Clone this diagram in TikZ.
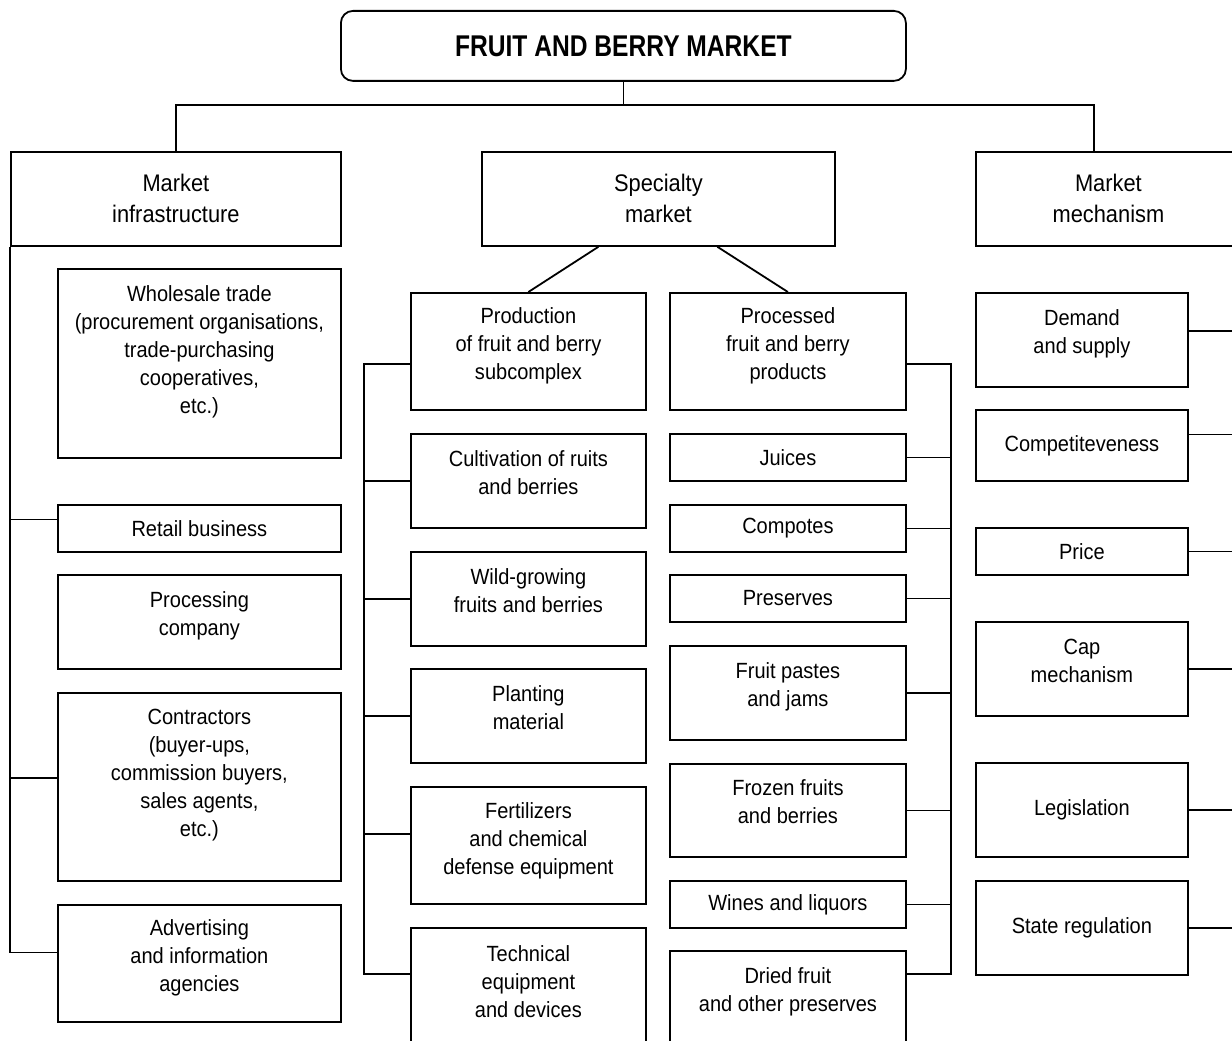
\documentclass[tikz,border=0pt]{standalone}
\usepackage{fontspec}
\setmainfont{Liberation Sans}[FakeStretch=0.91]
\newfontfamily\titlefont{Liberation Sans}[FakeStretch=0.82]

\begin{document}
\begin{tikzpicture}[x=1pt,y=-1pt,line width=1.8pt,
        box/.style={draw,rectangle,anchor=north west,inner sep=0pt,align=center,font=\fontsize{22}{28}\selectfont},
        headbox/.style={box,minimum height=94pt,font=\fontsize{24}{31}\selectfont},
        infrabox/.style={box,minimum width=283pt},
        prodbox/.style={box,minimum width=235pt},
        goodsbox/.style={box,minimum width=236pt},
        mechbox/.style={box,minimum width=212pt},
        lift/.style={text depth=#1}]
    \clip (0,0) rectangle (1232,1041);

    \node[draw,rounded corners=12pt,anchor=north west,minimum width=565pt,minimum height=70pt,
        font=\titlefont\bfseries\fontsize{30}{36}\selectfont] (title) at (340,10) {FRUIT AND BERRY MARKET};

    \node[headbox,minimum width=330pt] (infra) at (10,151) {Market\\infrastructure};
    \node[headbox,minimum width=353pt] (spec) at (481,151) {Specialty\\market};
    \node[headbox,minimum width=265pt] (mech) at (975,151) {Market\\mechanism};

    \node[infrabox,minimum height=189pt,lift=27pt] (whole) at (57,268) {Wholesale trade\\(procurement organisations,\\trade-purchasing\\cooperatives,\\etc.)};
    \node[infrabox,minimum height=47pt] (retail) at (57,504) {Retail business};
    \node[infrabox,minimum height=94pt,lift=17pt] (proc) at (57,574) {Processing\\company};
    \node[infrabox,minimum height=188pt,lift=29pt] (contr) at (57,692) {Contractors\\(buyer-ups,\\commission buyers,\\sales agents,\\etc.)};
    \node[infrabox,minimum height=117pt,lift=15pt] (adv) at (57,904) {Advertising\\and information\\agencies};

    \node[prodbox,minimum height=117pt,lift=15pt] (prod) at (410,292) {Production\\of fruit and berry\\subcomplex};
    \node[prodbox,minimum height=94pt,lift=16pt] (cult) at (410,433) {Cultivation of ruits\\and berries};
    \node[prodbox,minimum height=94pt,lift=16pt] (wild) at (410,551) {Wild-growing\\fruits and berries};
    \node[prodbox,minimum height=94pt,lift=16pt] (plant) at (410,668) {Planting\\material};
    \node[prodbox,minimum height=117pt,lift=13pt] (fert) at (410,786) {Fertilizers\\and chemical\\defense equipment};
    \node[prodbox,minimum height=118pt,lift=10pt] (tech) at (410,927) {Technical\\equipment\\and devices};

    \node[goodsbox,minimum height=117pt,lift=15pt] (procd) at (669,292) {Processed\\fruit and berry\\products};
    \node[goodsbox,minimum height=47pt] (juice) at (669,433) {Juices};
    \node[goodsbox,minimum height=47pt] (comp) at (669,504) {Compotes};
    \node[goodsbox,minimum height=47pt] (pres) at (669,574) {Preserves};
    \node[goodsbox,minimum height=94pt,lift=17pt] (paste) at (669,645) {Fruit pastes\\and jams};
    \node[goodsbox,minimum height=93pt,lift=18pt] (frozen) at (669,763) {Frozen fruits\\and berries};
    \node[goodsbox,minimum height=47pt] (wine) at (669,880) {Wines and liquors};
    \node[goodsbox,minimum height=95pt,lift=17pt] (dried) at (669,950) {Dried fruit\\and other preserves};

    \node[mechbox,minimum height=94pt,lift=17pt] (dem) at (975,292) {Demand\\and supply};
    \node[mechbox,minimum height=71pt] (compet) at (975,409) {Competiteveness};
    \node[mechbox,minimum height=47pt] (price) at (975,527) {Price};
    \node[mechbox,minimum height=94pt,lift=16pt] (cap) at (975,621) {Cap\\mechanism};
    \node[mechbox,minimum height=94pt] (legis) at (975,762) {Legislation};
    \node[mechbox,minimum height=94pt] (state) at (975,880) {State regulation};

    \draw (title.south) -- ++(0,23) coordinate (hub);
    \draw (infra.north) |- (hub) -| ([xshift=-14.5pt]mech.north);
    \draw ([xshift=-60pt]spec.south) -- (prod.north);
    \draw ([xshift=59pt]spec.south) -- (procd.north);

    \foreach \n/\s in {retail/9,contr/9,adv/11}
        \draw (infra.south west) |- ([yshift=\s pt]\n.west);

    \coordinate (lspine) at (364,363);
    \foreach \n/\s in {prod/-12.5,cult/0,wild/0,plant/0,fert/11.5,tech/13}
        \draw ([yshift=\s pt]\n.west) -| (lspine);

    \coordinate (rspine) at (951,363);
    \foreach \n/\s in {procd/-12.5,juice/0,comp/0,pres/0,paste/0,frozen/0,wine/0,dried/24.5}
        \draw ([yshift=\s pt]\n.east) -| (rspine);

    \coordinate (mspine) at (1250,330);
    \foreach \n/\s in {dem/9,compet/11,price/0,cap/0,legis/0,state/0}
        \draw ([yshift=\s pt]\n.east) -| (mspine);
\end{tikzpicture}
\end{document}
